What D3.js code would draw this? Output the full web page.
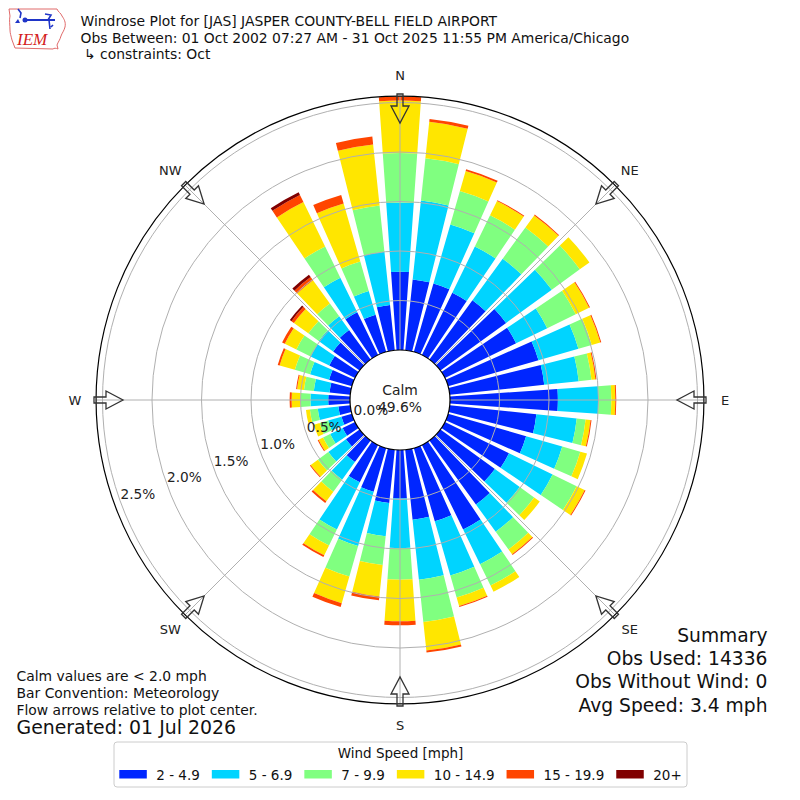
<!DOCTYPE html>
<html>
<head>
<meta charset="utf-8">
<script src="https://cdn.jsdelivr.net/npm/d3@7"></script>
<style>
  html, body { margin: 0; padding: 0; background: #fff; }
  svg { display: block; font-family: "DejaVu Sans", sans-serif; }
</style>
</head>
<body>
<svg id="chart" width="800" height="800"></svg>
<script>
// Wind directions (degrees, meteorological) and speed bins
const directions = [0, 10, 20, 30, 40, 50, 60, 70, 80, 90, 100, 110, 120, 130, 140, 150, 160, 170,
                    180, 190, 200, 210, 220, 230, 240, 250, 260, 270, 280, 290, 300, 310, 320, 330, 340, 350];
const speedBins = ['2 - 4.9', '5 - 6.9', '7 - 9.9', '10 - 14.9', '15 - 19.9', '20+'];
const binColors = ['#0026ff', '#00d4ff', '#80ff80', '#ffe600', '#ff4500', '#800000'];

// Frequency (%) per direction for each speed bin
const speed2to5 = [0.79, 0.72, 0.72, 0.70, 0.74, 0.82, 0.80, 0.95, 0.96, 1.09, 0.88, 0.82, 0.72, 0.68, 0.80, 0.95, 0.77, 0.71,
                   0.49, 0.54, 0.46, 0.42, 0.27, 0.17, 0.14, 0.11, 0.12, 0.22, 0.21, 0.24, 0.29, 0.33, 0.37, 0.48, 0.39, 0.46];
const speed5to7 = [0.70, 0.80, 0.62, 0.52, 0.52, 0.57, 0.35, 0.42, 0.35, 0.41, 0.41, 0.38, 0.49, 0.31, 0.34, 0.39, 0.57, 0.61,
                   0.50, 0.34, 0.57, 0.53, 0.22, 0.22, 0.14, 0.14, 0.21, 0.18, 0.16, 0.20, 0.21, 0.18, 0.17, 0.39, 0.25, 0.54];
const speed7to10 = [0.50, 0.43, 0.35, 0.35, 0.39, 0.35, 0.32, 0.14, 0.13, 0.13, 0.09, 0.19, 0.27, 0.18, 0.22, 0.24, 0.23, 0.43,
                    0.32, 0.29, 0.32, 0.18, 0.15, 0.13, 0.08, 0.09, 0.08, 0.10, 0.10, 0.16, 0.16, 0.13, 0.16, 0.35, 0.31, 0.47];
const speed10to15 = [0.53, 0.37, 0.21, 0.16, 0.15, 0.12, 0.15, 0.09, 0.04, 0.04, 0.05, 0.07, 0.09, 0.07, 0.06, 0.07, 0.09, 0.29,
                     0.42, 0.32, 0.28, 0.11, 0.12, 0.09, 0.05, 0.06, 0.04, 0.09, 0.07, 0.16, 0.13, 0.18, 0.29, 0.50, 0.61, 0.62];
const speed15to20 = [0.04, 0.03, 0.02, 0.01, 0.01, 0.00, 0.01, 0.01, 0.01, 0.01, 0.01, 0.00, 0.01, 0.00, 0.01, 0.00, 0.01, 0.02,
                     0.04, 0.04, 0.04, 0.02, 0.02, 0.01, 0.01, 0.00, 0.00, 0.02, 0.01, 0.02, 0.03, 0.03, 0.04, 0.08, 0.09, 0.08];
const speed20plus = [0.00, 0.00, 0.00, 0.00, 0.00, 0.00, 0.00, 0.00, 0.00, 0.00, 0.00, 0.00, 0.00, 0.00, 0.00, 0.00, 0.00, 0.00,
                     0.00, 0.00, 0.00, 0.00, 0.00, 0.00, 0.00, 0.00, 0.00, 0.00, 0.00, 0.00, 0.00, 0.02, 0.03, 0.03, 0.00, 0.00];

const radialTicks = [0.0, 0.5, 1.0, 1.5, 2.0, 2.5];
const compassLabels = ['N', 'NE', 'E', 'SE', 'S', 'SW', 'W', 'NW'];
const compassAngles = [0, 45, 90, 135, 180, 225, 270, 315];

const titleLines = [
    'Windrose Plot for [JAS] JASPER COUNTY-BELL FIELD AIRPORT',
    'Obs Between: 01 Oct 2002 07:27 AM - 31 Oct 2025 11:55 PM America/Chicago',
    '\u21b3 constraints: Oct'
];
const notesLines = ['Calm values are < 2.0 mph', 'Bar Convention: Meteorology', 'Flow arrows relative to plot center.'];
const generatedText = 'Generated: 01 Jul 2026';
const summaryLines = ['Summary', 'Obs Used: 14336', 'Obs Without Wind: 0', 'Avg Speed: 3.4 mph'];
const calmPct = '49.6%';

const cx = 400, cy = 400;
const calmRadius = 50;
const halfWidth = 4; // degrees, bar opening

const svg = d3.select('#chart');
const rad = d => d * Math.PI / 180;

// radial scale: 0% sits at the calm circle
const r = d3.scaleLinear().domain([0, 2.5]).range([calmRadius, 297.5]);
const outerR = r(2.565);

svg.append('rect').attr('width', 800).attr('height', 800).attr('fill', '#fff');

const plot = svg.append('g').attr('transform', `translate(${cx},${cy})`);

// Stack the bins per direction
const rows = directions.map((dir, i) => ({
    dir,
    [speedBins[0]]: speed2to5[i],
    [speedBins[1]]: speed5to7[i],
    [speedBins[2]]: speed7to10[i],
    [speedBins[3]]: speed10to15[i],
    [speedBins[4]]: speed15to20[i],
    [speedBins[5]]: speed20plus[i]
}));
const stacked = d3.stack().keys(speedBins)(rows);

const arc = d3.arc();

// bars
const barsGroup = plot.append('g').attr('class', 'bars');
stacked.forEach((layer, k) => {
    barsGroup.append('g')
        .attr('fill', binColors[k])
        .selectAll('path')
        .data(layer.filter(d => d[1] - d[0] > 0))
        .enter()
        .append('path')
        .attr('d', d => arc({
            innerRadius: r(d[0]),
            outerRadius: r(d[1]),
            startAngle: rad(d.data.dir - halfWidth),
            endAngle: rad(d.data.dir + halfWidth)
        }));
});

// grid: rings and spokes drawn over bars
const grid = plot.append('g').attr('fill', 'none').attr('stroke', '#b0b0b0').attr('stroke-width', 1);
grid.selectAll('circle')
    .data(radialTicks.filter(t => t > 0))
    .enter()
    .append('circle')
    .attr('r', d => r(d));
grid.selectAll('line')
    .data(compassAngles)
    .enter()
    .append('line')
    .attr('x1', 0).attr('y1', 0)
    .attr('x2', d => outerR * Math.sin(rad(d)))
    .attr('y2', d => -outerR * Math.cos(rad(d)));

// outer frame
plot.append('circle').attr('r', outerR).attr('fill', 'none').attr('stroke', '#000').attr('stroke-width', 1.2);

// calm circle
plot.append('circle').attr('r', calmRadius).attr('fill', '#fff').attr('stroke', '#000').attr('stroke-width', 1.2);

// radial tick labels
const labelAngle = rad(19.7);
plot.append('g').selectAll('text')
    .data(radialTicks)
    .enter()
    .append('text')
    .attr('x', d => -(r(d) - 19) * Math.cos(labelAngle))
    .attr('y', d => (r(d) - 19) * Math.sin(labelAngle))
    .attr('text-anchor', 'middle')
    .attr('dominant-baseline', 'central')
    .attr('font-size', 13.7)
    .attr('fill', '#222')
    .text(d => d.toFixed(1) + '%');

// calm text
plot.append('text').attr('x', 0).attr('y', -5).attr('text-anchor', 'middle')
    .attr('font-size', 13.9).attr('fill', '#222').text('Calm');
plot.append('text').attr('x', 0).attr('y', 12.3).attr('text-anchor', 'middle')
    .attr('font-size', 13.9).attr('fill', '#222').text(calmPct);

// flow arrows at the rim, pointing inward
const arrowPts = [[-3, -306], [3, -306], [3, -294], [9, -294], [0, -277], [-9, -294], [-3, -294]];
plot.append('g').selectAll('polygon')
    .data(compassAngles)
    .enter()
    .append('polygon')
    .attr('points', arrowPts.map(p => p.join(',')).join(' '))
    .attr('transform', d => `rotate(${d})`)
    .attr('fill', 'none')
    .attr('stroke', '#333')
    .attr('stroke-width', 1.3)
    .attr('stroke-linejoin', 'miter');

// compass labels
plot.append('g').selectAll('text')
    .data(compassLabels)
    .enter()
    .append('text')
    .attr('x', (d, i) => 325 * Math.sin(rad(compassAngles[i])))
    .attr('y', (d, i) => -325 * Math.cos(rad(compassAngles[i])))
    .attr('text-anchor', 'middle')
    .attr('dominant-baseline', 'central')
    .attr('font-size', 13)
    .attr('fill', '#222')
    .text(d => d);

// title block
const titleY = [26, 42.7, 59.3];
const titleX = [80.5, 80.5, 84];
svg.append('g').selectAll('text')
    .data(titleLines)
    .enter()
    .append('text')
    .attr('x', (d, i) => titleX[i])
    .attr('y', (d, i) => titleY[i])
    .attr('font-size', 13.9)
    .attr('fill', '#111')
    .text(d => d);

// IEM logo (rough)
const logo = svg.append('g');
logo.append('path')
    .attr('d', 'M9,9 L57,9 C58,12 61,13 62,16 C64,19 66,22 65,27 C64,31 62,33 61,36 C60,40 58,42 57,45 L58,49 C56,48 54,48 53,49 L15,48 C14,45 13,43 12,40 C11,36 10,33 10,30 C10,25 9,20 10,16 Z')
    .attr('fill', 'none').attr('stroke', '#e06a6a').attr('stroke-width', 1);
logo.append('line').attr('x1', 25).attr('y1', 20).attr('x2', 55).attr('y2', 20)
    .attr('stroke', '#1f35c8').attr('stroke-width', 2);
logo.append('circle').attr('cx', 25).attr('cy', 20).attr('r', 2.5).attr('fill', '#1f35c8');
logo.append('path').attr('d', 'M18,9 L21,13 L20,18 M45,14 L51,15 L48,20 M49,20 L50,29 M53,25 L51,27')
    .attr('fill', 'none').attr('stroke', '#1f35c8').attr('stroke-width', 1.6);
logo.append('path').attr('d', 'M18,19 L15,23 L20,23 Z').attr('fill', '#1f35c8');
logo.append('text').attr('x', 17).attr('y', 45)
    .attr('font-family', '"Liberation Serif", serif').attr('font-style', 'italic')
    .attr('font-size', 17).attr('fill', '#d42020').text('IEM');

// notes (bottom left)
const notesY = [681, 697.8, 714.5];
svg.append('g').selectAll('text')
    .data(notesLines)
    .enter()
    .append('text')
    .attr('x', 16.5)
    .attr('y', (d, i) => notesY[i])
    .attr('font-size', 13.9)
    .attr('fill', '#111')
    .text(d => d);
svg.append('text').attr('x', 16.5).attr('y', 734)
    .attr('font-size', 18.9).attr('fill', '#111').text(generatedText);

// summary (bottom right)
svg.append('g').selectAll('text')
    .data(summaryLines)
    .enter()
    .append('text')
    .attr('x', 767.5)
    .attr('y', (d, i) => 641.7 + i * 23.35)
    .attr('text-anchor', 'end')
    .attr('font-size', 18.7)
    .attr('fill', '#111')
    .text(d => d);

// legend
const legend = svg.append('g');
legend.append('rect')
    .attr('x', 114).attr('y', 742).attr('width', 573).attr('height', 45)
    .attr('rx', 3).attr('fill', '#fff').attr('stroke', '#cccccc').attr('stroke-width', 1);
legend.append('text').attr('x', 400.5).attr('y', 758)
    .attr('text-anchor', 'middle').attr('font-size', 13.5).attr('fill', '#111').text('Wind Speed [mph]');
let lx = 119.3;
speedBins.forEach((label, k) => {
    legend.append('rect')
        .attr('x', lx).attr('y', 770).attr('width', 27.5).attr('height', 8.5)
        .attr('fill', binColors[k]);
    const t = legend.append('text')
        .attr('x', lx + 37).attr('y', 779.5)
        .attr('font-size', 13.5).attr('fill', '#111').text(label);
    lx = lx + 37 + t.node().getComputedTextLength() + 12;
});
</script>
</body>
</html>
